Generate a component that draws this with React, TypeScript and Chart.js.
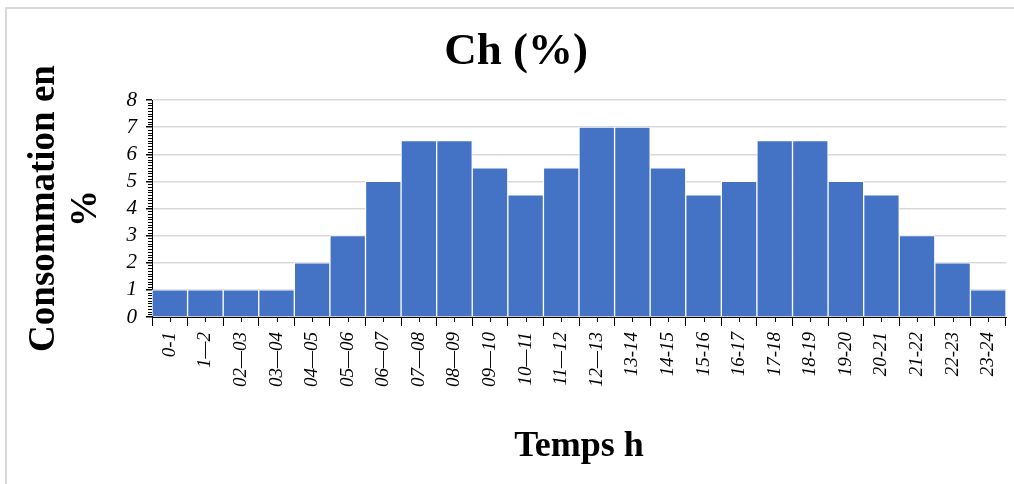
import React, { useEffect, useRef } from "react";
import { Chart, registerables } from "chart.js";

Chart.register(...registerables);

const categories: string[] = [
  "0-1", "1—2", "02—03", "03—04", "04—05", "05—06", "06—07", "07—08",
  "08—09", "09—10", "10—11", "11—12", "12—13", "13-14", "14-15", "15-16",
  "16-17", "17-18", "18-19", "19-20", "20-21", "21-22", "22-23", "23-24",
];

const consumption: number[] = [
  1, 1, 1, 1, 2, 3, 5, 6.5, 6.5, 5.5, 4.5, 5.5, 7, 7, 5.5, 4.5, 5, 6.5, 6.5, 5, 4.5, 3, 2, 1,
];

const chartTitle = "Ch (%)";
const xTitle = "Temps h";
const yTitle: string[] = ["Consommation en", "%"];
const yMin = 0;
const yMax = 8;

const SERIF = "'Liberation Serif', 'Times New Roman', serif";

const minorTicks = {
  id: "minorTicks",
  afterDraw(chart: any) {
    const ctx = chart.ctx;
    const x = chart.scales.x;
    const y = chart.scales.y;
    const area = chart.chartArea;
    ctx.save();
    ctx.strokeStyle = "#000";
    ctx.lineWidth = 1;
    ctx.beginPath();
    for (let i = 0; i < categories.length; i++) {
      const px = Math.round(x.getPixelForValue(i)) + 0.5;
      ctx.moveTo(px, area.bottom);
      ctx.lineTo(px, area.bottom + 5);
    }
    for (let k = 0; k <= (yMax - yMin) * 10; k++) {
      if (k % 10 === 0) continue;
      const py = Math.round(y.getPixelForValue(yMin + k / 10)) + 0.5;
      ctx.moveTo(area.left, py);
      ctx.lineTo(area.left - 4, py);
    }
    ctx.stroke();
    ctx.restore();
  },
};

export default function App() {
  const ref = useRef<HTMLCanvasElement | null>(null);

  useEffect(() => {
    if (!ref.current) return;
    const chart = new Chart(ref.current, {
      type: "bar",
      data: {
        labels: categories,
        datasets: [
          {
            label: chartTitle,
            data: consumption,
            backgroundColor: "#4472C4",
            borderColor: "#ffffff",
            borderWidth: 1,
            barPercentage: 1,
            categoryPercentage: 1,
          },
        ],
      },
      options: {
        responsive: false,
        animation: false,
        layout: { padding: { left: 26, right: 8, top: 0, bottom: 0 } },
        plugins: {
          legend: { display: false },
          tooltip: { enabled: false },
          title: {
            display: true,
            text: chartTitle,
            color: "#000",
            font: { family: SERIF, size: 45, weight: "bold", lineHeight: 1.2 },
            padding: { top: 25, bottom: 21 },
          },
        },
        scales: {
          x: {
            offset: true,
            grid: {
              offset: true,
              drawOnChartArea: false,
              drawTicks: true,
              tickLength: 9,
              tickColor: "#000",
            },
            border: { display: true, color: "#000", width: 1 },
            ticks: {
              autoSkip: false,
              minRotation: 90,
              maxRotation: 90,
              padding: 6,
              color: "#000",
              font: { family: SERIF, size: 19, style: "italic" },
            },
            title: {
              display: true,
              text: xTitle,
              color: "#000",
              font: { family: SERIF, size: 36, weight: "bold", lineHeight: 1.2 },
              padding: { top: 0, bottom: 16 },
            },
            afterFit(scale: any) {
              scale.height = 167;
              scale.paddingLeft = 0;
              scale.paddingRight = 0;
            },
          },
          y: {
            min: yMin,
            max: yMax,
            ticks: {
              stepSize: 1,
              autoSkip: false,
              padding: 9,
              color: "#000",
              font: { family: SERIF, size: 21, style: "italic" },
            },
            grid: {
              color: "#d9d9d9",
              lineWidth: 1.5,
              drawTicks: true,
              tickLength: 6,
              tickColor: "#000",
            },
            border: { display: true, color: "#000", width: 1 },
            title: {
              display: true,
              text: yTitle,
              color: "#000",
              font: { family: SERIF, size: 37, weight: "bold", lineHeight: 1.13 },
              padding: { top: -2, bottom: 0 },
            },
            afterFit(scale: any) {
              scale.width = 126;
            },
          },
        },
      },
      plugins: [minorTicks],
    });
    return () => chart.destroy();
  }, []);

  return (
    <div style={{ position: "absolute", left: 0, top: 0, width: 1014, height: 484, background: "#fff", overflow: "hidden" }}>
      <canvas ref={ref} width={1014} height={484} style={{ position: "absolute", left: 0, top: 0 }} />
      <div style={{ position: "absolute", left: 5, top: 7, width: 2, height: 477, background: "#d9d9d9" }} />
      <div style={{ position: "absolute", left: 5, top: 7, width: 1009, height: 2, background: "#d9d9d9" }} />
    </div>
  );
}
